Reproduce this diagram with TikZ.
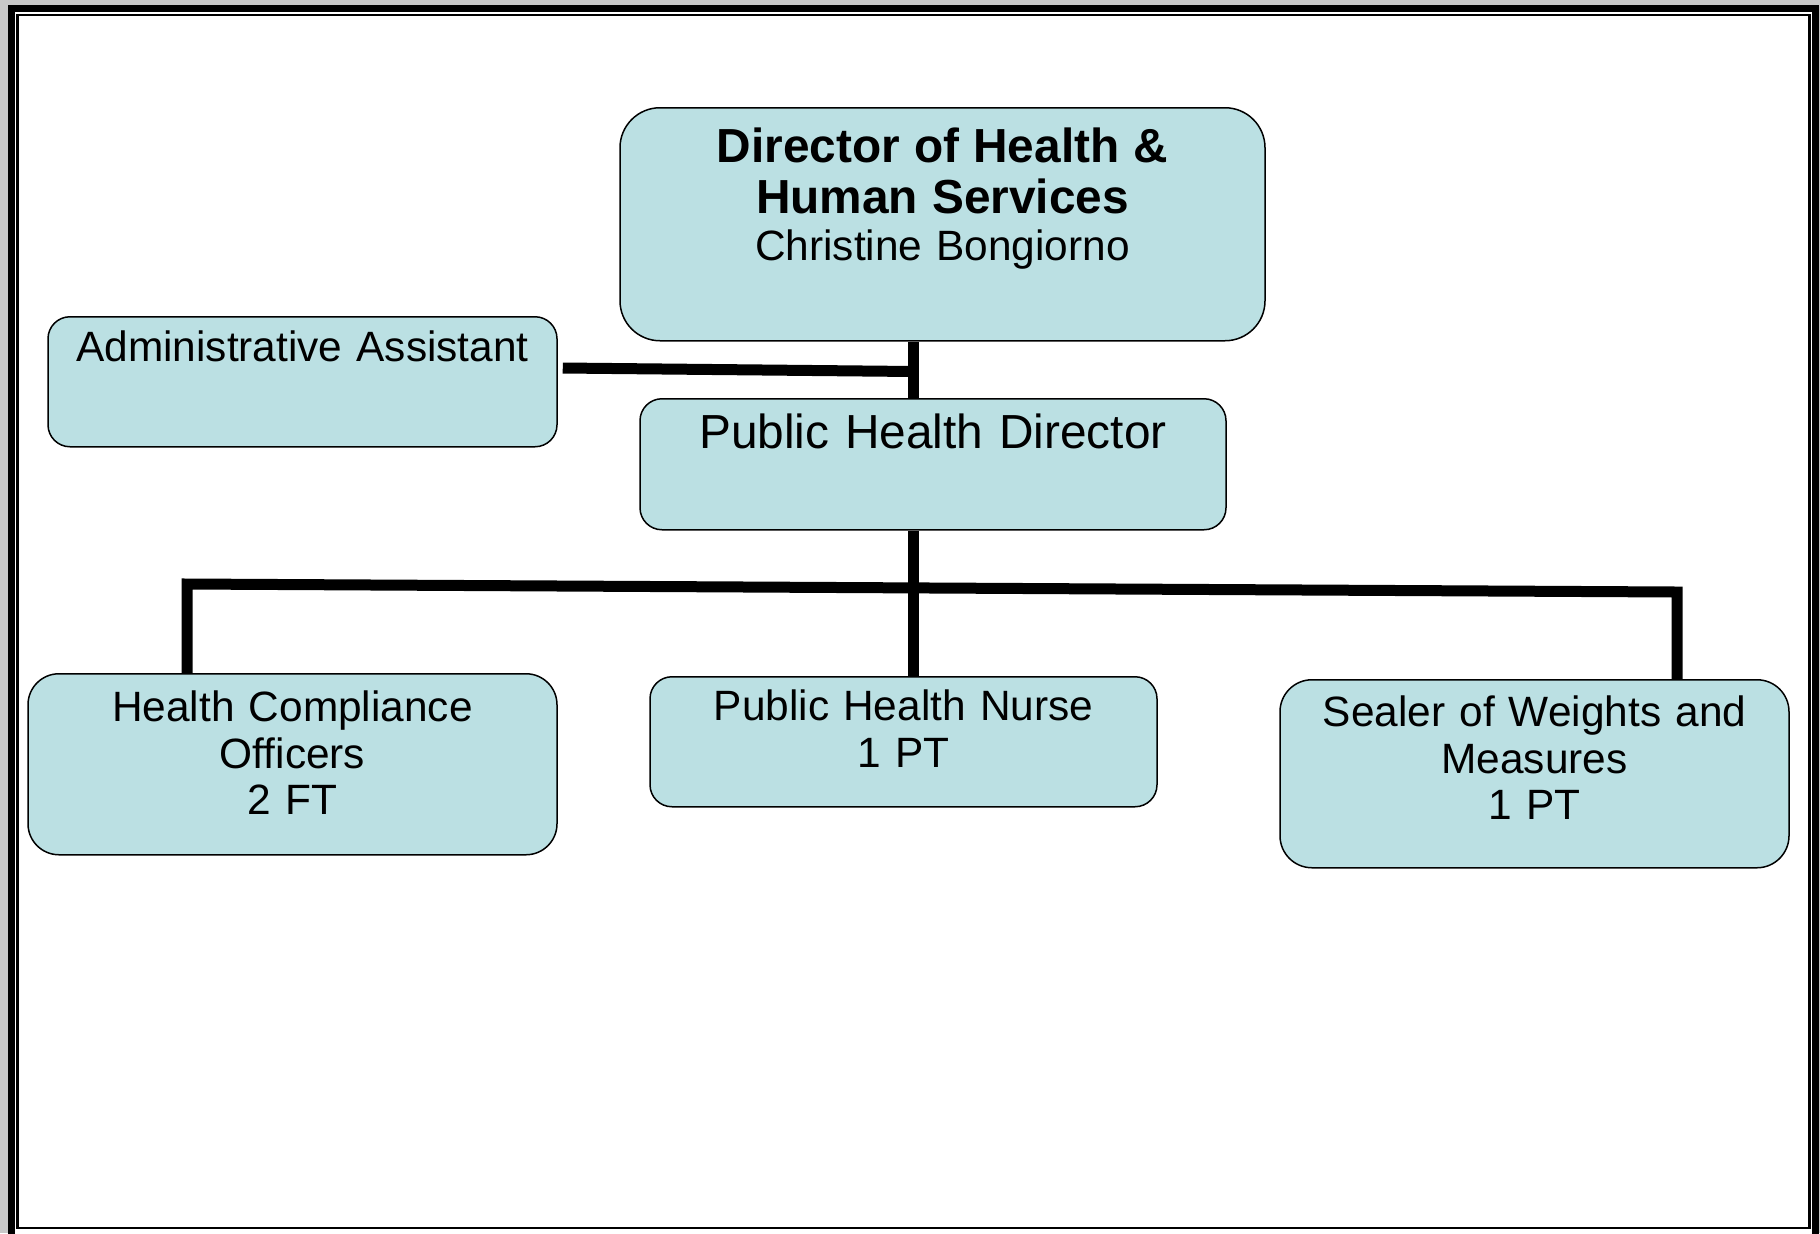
\documentclass[tikz,border=0pt]{standalone}
\usepackage{fontspec}
\setmainfont{Liberation Sans}
\usetikzlibrary{calc}
\definecolor{boxblue}{RGB}{187,224,227}
\definecolor{pagegrey}{RGB}{200,200,200}
\newcommand{\headfont}{\fontsize{23.9}{25.5}\selectfont}

\begin{document}
\begin{tikzpicture}[x=0.5pt,y=-0.5pt]
\tikzstyle{post}=[draw=black,line width=0.75pt,fill=boxblue,inner sep=0pt,anchor=north,align=center,font=\fontsize{21.2}{23.2}\selectfont]
\tikzstyle{link}=[line width=5.5pt]
% end of definitions
\useasboundingbox (0,0) rectangle (1820,1233);
\fill[pagegrey] (0,0) rectangle (1820,1233);
\draw[line width=3.5pt,fill=white] (11.5,8) rectangle (1815,1245); %frame
\draw[line width=1.25pt] (17.5,14.75) rectangle (1809.5,1228);
\node[post,rounded corners=20pt,text width=322.5pt,text height=27.5pt,text depth=89pt] (director) at (942.5,107) {{\headfont\bfseries Director of Health \&}\\[2.3pt]{\headfont\bfseries Human Services}\\Christine Bongiorno};
\node[post,rounded corners=11pt,text width=254.5pt,text height=22.5pt,text depth=42.5pt] (assistant) at (302.5,316) {Administrative Assistant};
\node[post,rounded corners=11pt,text width=293pt,text height=25pt,text depth=40.5pt,font=\headfont] (phd) at (933,398) {Public Health Director};
\node[post,rounded corners=15.5pt,text width=264.5pt,text height=24pt,text depth=66.5pt] (officers) at (292.5,673) {Health Compliance\\Officers\\2 FT};
\node[post,rounded corners=11pt,text width=253.5pt,text height=22pt,text depth=43pt] (nurse) at (903.5,676) {Public Health Nurse\\1 PT};
\node[post,rounded corners=16pt,text width=254.5pt,text height=23.5pt,text depth=70.5pt] (sealer) at (1534.5,679) {Sealer of Weights and\\Measures\\1 PT};
\coordinate (spine) at (913.5,0);
\coordinate (tie) at (913.5,371.5);
\coordinate (barleft) at (187,584);
\coordinate (barright) at (1677,592);
\draw[link] (spine |- director.south) -- (spine |- phd.north);
\draw[link] ($(assistant.east |- tie)+(5,-3.5)$) -- (tie); %assistant
\draw[link] (spine |- phd.south) -- (spine |- nurse.north);
\draw[link] (officers.north -| barleft) -- (barleft) -- (barright) -- (sealer.north -| barright);
\end{tikzpicture}
\end{document}
